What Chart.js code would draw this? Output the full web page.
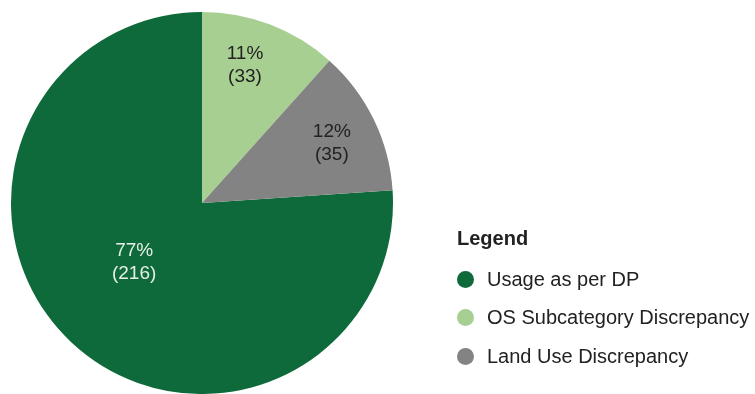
<!DOCTYPE html>
<html>
<head>
<meta charset="utf-8">
<script src="https://cdn.jsdelivr.net/npm/chart.js@4/dist/chart.umd.min.js"></script>
<style>
  html, body { margin: 0; padding: 0; background: #ffffff; }
  #wrap { position: relative; width: 755px; height: 394px; overflow: hidden; }
  #c { position: absolute; left: 0; top: 0; }
  #legend { position: absolute; left: 457px; top: 226px; font-family: "Liberation Sans", Arial, sans-serif; color: #222; }
  #legend .title { font-weight: bold; font-size: 20px; line-height: 24px; margin-bottom: 10px; }
  #legend .item { display: flex; align-items: center; height: 38.5px; font-size: 20px; }
  #legend .dot { width: 17px; height: 17px; border-radius: 50%; margin-right: 13px; }
</style>
</head>
<body>
<div id="wrap">
  <canvas id="c" width="755" height="394"></canvas>
  <div id="legend"></div>
</div>
<script>
const categories = ["Usage as per DP", "OS Subcategory Discrepancy", "Land Use Discrepancy"];
const counts = [216, 33, 35];
const percentLabels = ["77%", "11%", "12%"];
const legendTitle = "Legend";

const colors = ["#0e6a3a", "#a8cf92", "#838383"];
const labelColors = ["#e6efe6", "#222222", "#222222"];
const labelRadius = [0.47, 0.76, 0.75];
const labelAngleShift = [6, -3.7, 1];

const total = counts.reduce((a, b) => a + b, 0);
const rotation = 360 * (counts[1] + counts[2]) / total;

const sliceLabels = {
  id: 'sliceLabels',
  afterDatasetsDraw(chart) {
    const ctx = chart.ctx;
    const meta = chart.getDatasetMeta(0);
    ctx.save();
    ctx.font = '19px "Liberation Sans", Arial, sans-serif';
    ctx.textAlign = 'center';
    ctx.textBaseline = 'middle';
    meta.data.forEach((arc, i) => {
      const p = arc.getProps(['x', 'y', 'startAngle', 'endAngle', 'outerRadius'], true);
      const mid = (p.startAngle + p.endAngle) / 2 + labelAngleShift[i] * Math.PI / 180;
      const r = p.outerRadius * labelRadius[i];
      const x = p.x + Math.cos(mid) * r;
      const y = p.y + Math.sin(mid) * r;
      ctx.fillStyle = labelColors[i];
      ctx.fillText(percentLabels[i], x, y - 11);
      ctx.fillText('(' + counts[i] + ')', x, y + 12);
    });
    ctx.restore();
  }
};

const chart = new Chart(document.getElementById('c'), {
  type: 'pie',
  data: {
    labels: categories,
    datasets: [{
      data: counts,
      backgroundColor: colors,
      borderWidth: 0
    }]
  },
  options: {
    responsive: false,
    animation: false,
    rotation: rotation,
    layout: { padding: { left: 11, right: 362, top: 12, bottom: 0 } },
    plugins: {
      legend: { display: false },
      tooltip: { enabled: false }
    }
  },
  plugins: [sliceLabels]
});

const legendEl = document.getElementById('legend');
const t = document.createElement('div');
t.className = 'title';
t.textContent = legendTitle;
legendEl.appendChild(t);
categories.forEach((name, i) => {
  const item = document.createElement('div');
  item.className = 'item';
  const dot = document.createElement('span');
  dot.className = 'dot';
  dot.style.background = colors[i];
  const txt = document.createElement('span');
  txt.textContent = name;
  item.appendChild(dot);
  item.appendChild(txt);
  legendEl.appendChild(item);
});
</script>
</body>
</html>
